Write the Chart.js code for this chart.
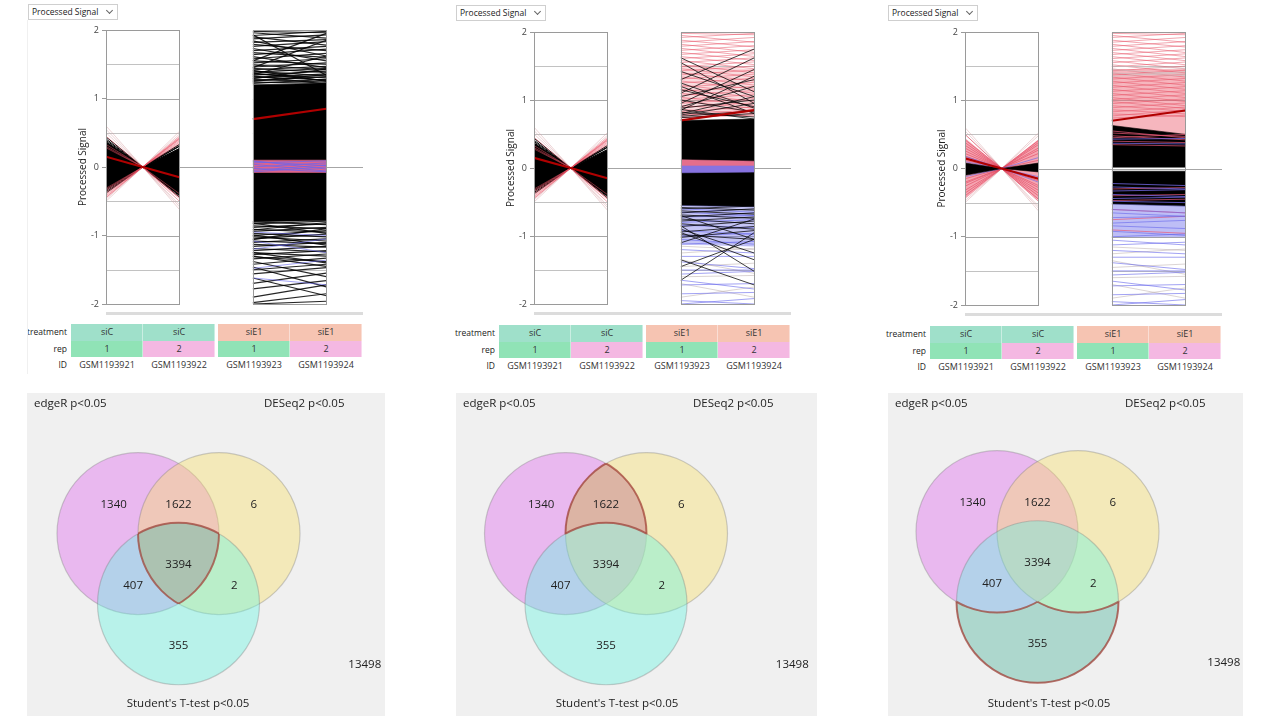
<!DOCTYPE html>
<html>
<head>
<meta charset="utf-8">
<title>Profile plots and Venn diagrams</title>
<script src="https://cdn.jsdelivr.net/npm/chart.js@4.4.1/dist/chart.umd.min.js"></script>
<style>
  html, body { margin: 0; padding: 0; background: #fff; }
  body { font-family: 'Open Sans', 'Noto Sans', sans-serif; color: #222; }
  #page { position: relative; width: 1267px; height: 724px; overflow: hidden; }
  .abs { position: absolute; white-space: nowrap; }
  .dropdown { border: 1px solid #cfcfcf; background: #fff; font-size: 8.5px; line-height: 14px; height: 14px; padding-left: 3px; color: #222; }
  .chev { position: absolute; right: 5px; top: 3px; width: 4px; height: 4px; border-right: 1px solid #666; border-bottom: 1px solid #666; transform: rotate(45deg); }
  .scrollbar { background: #dcdcdc; height: 3px; }
  .lbl { font-size: 8.5px; text-align: right; color: #222; }
  .cell { font-size: 9px; text-align: center; color: #333; box-shadow: inset -1px 0 0 rgba(255,255,255,0.45); }
  .venn-bg { background: #f0f0f0; }
  .venn-title { font-size: 11.5px; color: #222; }
</style>
</head>
<body>
<div id="page"></div>
<script>
// ---- sample annotation ----
const sampleIds = ['GSM1193921', 'GSM1193922', 'GSM1193923', 'GSM1193924'];
const treatments = ['siC', 'siC', 'siE1', 'siE1'];
const reps = ['1', '2', '1', '2'];
const yTickValues = [-2, -1, 0, 1, 2];
const gridValues = [-1.5, -1, -0.5, 0.5, 1, 1.5];

// ---- profile lines: each pair is [rep1, rep2] of one gene ----
const selectedSic = [0.15, -0.15];
const selectedSie = [0.70, 0.85];

// siC box, panels 1 and 2
const sicCoreTop = [0.36, 0.27];
const sicCoreBottom = [-0.33, -0.40];
const sicBlack = [[0.44, -0.44], [0.41, -0.40], [0.39, -0.42], [0.37, -0.35], [-0.36, 0.30], [-0.38, 0.27], [-0.34, 0.31], [0.36, -0.41], [-0.30, 0.33]];
const sicPink = [[-0.42, 0.45], [-0.44, 0.40], [-0.40, 0.42], [-0.38, 0.38], [-0.35, 0.36], [-0.33, 0.34], [0.30, -0.46], [0.45, -0.50], [-0.45, 0.43], [0.33, -0.44], [-0.31, 0.41], [0.28, -0.39]];
const sicFaint = [[0.60, -0.62], [0.55, -0.58], [-0.50, 0.48], [0.50, -0.55], [-0.47, 0.52]];

// siC box, panel 3
const p3SicPinkTop = [0.44, 0.42];
const p3SicPinkBottom = [-0.44, -0.46];
const p3SicCoreTop = [0.08, 0.08];
const p3SicCoreBottom = [-0.10, -0.05];
const p3SicRed = [[0.50, -0.48], [0.38, -0.36], [0.30, -0.28], [0.22, -0.25], [-0.20, 0.22], [-0.32, 0.30], [-0.40, 0.41], [0.42, -0.45], [0.26, -0.32], [-0.26, 0.35], [0.12, -0.18], [-0.15, 0.12], [0.34, -0.40], [-0.36, 0.38], [0.18, -0.14], [-0.22, 0.27]];
const p3SicBlue = [[0.18, -0.20], [0.10, -0.12], [-0.12, 0.16]];

// siE1 box, panel 1
const p1CoreTop = [1.20, 1.22];
const p1CoreBottom = [-0.80, -0.78];
const p1ZeroTop = [0.10, 0.10];
const p1ZeroBottom = [-0.08, -0.08];
const p1UpBlack = [[1.98, 1.96], [1.96, 1.88], [1.93, 1.34], [1.92, 1.98], [1.90, 1.78], [1.87, 1.93], [1.84, 1.62], [1.82, 1.86], [1.79, 1.70], [1.76, 1.83], [1.73, 1.55], [1.70, 1.76], [1.67, 1.60], [1.64, 1.72], [1.61, 1.45], [1.58, 1.66], [1.55, 1.50], [1.52, 1.58], [1.49, 1.42], [1.46, 1.52], [1.44, 1.38], [1.42, 1.47], [1.40, 1.33], [1.38, 1.44], [1.36, 1.30], [1.34, 1.40], [1.32, 1.27], [1.30, 1.36], [1.28, 1.24], [1.26, 1.32], [1.24, 1.22], [1.22, 1.28], [1.55, 1.95], [1.45, 1.85], [1.35, 1.62], [1.41, 1.25], [1.33, 1.21], [1.29, 1.43], [1.25, 1.35], [1.37, 1.26]];
const p1DownBlack = [[-0.80, -0.84], [-0.83, -0.79], [-0.86, -0.90], [-0.88, -0.83], [-0.91, -0.95], [-0.94, -0.88], [-0.97, -1.02], [-1.00, -0.93], [-1.02, -1.08], [-1.05, -0.98], [-1.08, -1.12], [-1.10, -1.05], [-1.13, -1.17], [-1.16, -1.10], [-1.19, -1.24], [-1.22, -1.16], [-1.25, -1.30], [-1.28, -1.22], [-1.31, -1.38], [-1.34, -1.27], [-1.38, -1.60], [-1.42, -1.33], [-1.46, -1.75], [-1.50, -1.42], [-1.56, -1.47], [-1.62, -1.88], [-1.70, -1.55], [-1.78, -1.66], [-1.90, -1.72], [-1.98, -1.85], [-2.00, -1.96], [-1.30, -1.45], [-1.25, -1.40], [-0.82, -0.97], [-0.92, -0.81], [-0.99, -1.14], [-1.06, -0.90]];
const p1DownBlue = [[-1.08, -1.25], [-1.48, -1.36], [-1.62, -1.72], [-1.20, -1.05], [-0.95, -1.00]];
const p1ZeroBlue = [[0.08, 0.02], [0.00, 0.06], [-0.05, 0.03], [0.04, -0.06], [-0.02, -0.07], [0.06, 0.09], [-0.07, 0.00], [0.09, -0.03]];

// siE1 box, panels 2 and 3
const upRedLines = [[1.98, 1.96], [1.95, 1.85], [1.92, 1.98], [1.88, 1.78], [1.85, 1.92], [1.82, 1.70], [1.79, 1.86], [1.76, 1.64], [1.73, 1.80], [1.70, 1.58], [1.67, 1.74], [1.64, 1.52], [1.61, 1.68], [1.58, 1.46], [1.55, 1.62], [1.52, 1.40], [1.49, 1.56], [1.46, 1.34], [1.43, 1.50], [1.40, 1.28], [1.37, 1.44], [1.34, 1.22], [1.31, 1.38], [1.28, 1.16], [1.25, 1.32], [1.22, 1.10], [1.19, 1.26], [1.16, 1.04], [1.13, 1.20], [1.10, 0.98], [1.07, 1.14], [1.04, 0.92], [1.01, 1.08], [0.98, 0.88], [0.95, 1.02], [0.92, 0.84], [0.89, 0.96], [0.86, 0.80], [0.83, 0.90], [0.80, 0.76], [0.77, 0.86], [0.74, 0.78]];
const downBlueLines = [[-0.60, -0.65], [-0.65, -0.70], [-0.72, -0.70], [-0.80, -0.76], [-0.84, -0.88], [-0.92, -0.98], [-1.00, -0.96], [-1.05, -1.12], [-1.12, -1.08], [-1.20, -1.25], [-1.30, -1.30], [-1.38, -1.48], [-1.50, -1.50], [-1.56, -1.52], [-1.65, -1.78], [-1.72, -1.70], [-1.85, -1.83], [-2.00, -1.92], [-1.95, -2.00]];
const downGreyLines = [[-1.15, -1.20], [-1.25, -1.18], [-1.45, -1.40], [-1.60, -1.58], [-1.70, -1.90], [-1.90, -1.75], [-1.35, -1.55]];
const p2UpBlack = [[1.30, 1.75], [1.55, 0.95], [0.95, 1.45], [1.20, 0.80], [1.42, 1.05], [0.85, 1.35], [1.10, 1.62], [1.62, 1.12], [0.90, 1.20], [1.25, 0.88], [1.05, 1.30], [0.80, 1.05], [1.00, 0.82], [0.88, 1.00], [1.15, 0.90], [0.78, 0.95], [0.82, 0.75], [0.76, 0.84], [0.86, 0.72], [0.74, 0.80]];
const p2DownBlack = [[-0.58, -0.62], [-0.60, -0.56], [-0.63, -0.68], [-0.66, -0.60], [-0.69, -0.74], [-0.72, -0.66], [-0.75, -0.82], [-0.78, -0.72], [-0.82, -0.90], [-0.86, -0.78], [-0.90, -1.25], [-0.94, -0.86], [-0.98, -1.05], [-1.02, -0.92], [-0.70, -1.05], [-0.85, -1.52], [-1.65, -0.95], [-1.10, -0.75], [-1.35, -1.72], [-1.45, -1.05], [-0.95, -1.35]];
const p2PinkTop = [1.50, 1.45];
const p2PinkBottom = [0.74, 0.78];
const p2CoreTop = [0.70, 0.72];
const p2CoreBottom = [-0.55, -0.57];
const p2BandMid = [0.03, 0.03];
const p2BandTop = [0.12, 0.10];
const p2BandBottom = [-0.07, -0.06];
const p2BlueBottom = [-1.12, -1.15];

const p3PinkTop = [1.45, 1.45];
const p3PinkBottom = [0.62, 0.50];
const p3UpCoreTop = [0.63, 0.50];
const p3UpCoreBottom = [0.02, 0.02];
const p3DownCoreTop = [-0.04, -0.04];
const p3DownCoreBottom = [-0.52, -0.55];
const p3BlueBottom = [-1.00, -1.00];
const p3TopGrey = [[1.45, 1.38], [1.35, 1.42], [1.50, 1.47], [1.40, 1.36]];
const p3StreakPink = [[0.55, 0.45], [0.48, 0.42], [0.40, 0.38], [0.35, 0.33], [0.45, 0.50], [0.52, 0.47], [-0.30, -0.28], [-0.40, -0.38], [-0.60, -0.65], [-0.75, -0.70], [-0.90, -0.95], [-0.47, -0.45]];
const p3StreakBlue = [[0.43, 0.44], [0.37, 0.36], [-0.22, -0.25], [-0.27, -0.30], [-0.33, -0.31], [-0.38, -0.41], [-0.44, -0.42], [-0.48, -0.50]];

// ---- Venn ----
const vennNames = ['edgeR p<0.05', 'DESeq2 p<0.05', "Student's T-test p<0.05"];
const vennCounts = [1340, 1622, 6, 407, 3394, 2, 355, 13498];
const panelHighlight = [[1, 1, 1], [1, 1, 0], [0, 0, 1]];

// ---- layout (positions, not data) ----
const X_MAX = 3.5;
const boxRanges = [[0, 1], [2, 3]];
const VENN_PX = 81;
const VENN_TOP = 393, VENN_H = 323;
const vennCenters = [[-0.5, 0.2887], [0.5, 0.2887], [0, -0.5774]];
const vennLabelPos = [[-0.80, 0.64], [0, 0.64], [0.93, 0.64], [-0.56, -0.35], [0, -0.10], [0.69, -0.35], [0, -1.10], [2.30, -1.33]];
const vennFill = ['rgba(222,100,237,0.4)', 'rgba(247,222,102,0.4)', 'rgba(100,245,225,0.4)'];
const PANELS = [
  { axisX: 106, top: 30, bottom: 304, dropX: 28, dropY: 4, tableY: 324, vennX: 27, vennW: 358, vennCx: 151.5, vennCy: 164 },
  { axisX: 534, top: 32, bottom: 304, dropX: 456, dropY: 5, tableY: 325, vennX: 456, vennW: 361, vennCx: 150, vennCy: 164 },
  { axisX: 965, top: 32, bottom: 305, dropX: 888, dropY: 5, tableY: 326, vennX: 888, vennW: 355, vennCx: 149.5, vennCy: 162 }
];

const BLACK = '#000';
const RED = 'rgba(232,80,100,0.5)';
const FAINT = 'rgba(215,160,165,0.45)';
const BLUE = 'rgba(100,100,235,0.6)';
const GREY = 'rgba(175,160,160,0.45)';
const SEL = '#b00000';

Chart.defaults.font.family = "'Open Sans', 'Noto Sans', sans-serif";

const page = document.getElementById('page');

function el(cls, css, text) {
  const d = document.createElement('div');
  d.className = 'abs ' + cls;
  d.style.cssText = css;
  if (text !== undefined) d.textContent = text;
  page.appendChild(d);
  return d;
}

function addCanvas(left, top, w, h) {
  const c = document.createElement('canvas');
  c.width = w; c.height = h;
  c.style.cssText = `position:absolute;left:${left}px;top:${top}px;width:${w}px;height:${h}px;`;
  page.appendChild(c);
  return c;
}

// ---- dataset helpers ----
function lineSet(data, color, width, fill) {
  return { data, borderColor: color, backgroundColor: color, borderWidth: width, pointRadius: 0, pointHoverRadius: 0, fill, tension: 0 };
}
const sicPts = p => [{ x: 0, y: p[0] }, { x: 0.5, y: 0 }, { x: 1, y: p[1] }];
const siePts = p => [{ x: 2, y: p[0] }, { x: 3, y: p[1] }];

function addBand(ds, pts, top, bottom, color) {
  ds.push(lineSet(pts(top), color, 0.6, '+1'));
  ds.push(lineSet(pts(bottom), color, 0.6, false));
}
function addLines(ds, pts, lines, color, width) {
  lines.forEach(p => ds.push(lineSet(pts(p), color, width, false)));
}

function panel1Sets() {
  const ds = [];
  addBand(ds, sicPts, sicCoreTop, sicCoreBottom, BLACK);
  addLines(ds, sicPts, sicBlack, BLACK, 1);
  addLines(ds, sicPts, sicFaint, FAINT, 1);
  addLines(ds, sicPts, sicPink, RED, 1);
  addLines(ds, sicPts, [selectedSic], SEL, 2.2);
  addBand(ds, siePts, p1CoreTop, p1CoreBottom, BLACK);
  addLines(ds, siePts, p1UpBlack, 'rgba(0,0,0,0.85)', 1.2);
  addLines(ds, siePts, p1DownBlack, 'rgba(0,0,0,0.85)', 1.2);
  addLines(ds, siePts, p1DownBlue, BLUE, 1);
  addBand(ds, siePts, p1ZeroTop, p1ZeroBottom, 'rgb(222,100,140)');
  addLines(ds, siePts, p1ZeroBlue, 'rgba(110,100,235,0.8)', 1);
  addLines(ds, siePts, [selectedSie], SEL, 2.2);
  return ds;
}

function panel2Sets() {
  const ds = [];
  addBand(ds, sicPts, sicCoreTop, sicCoreBottom, BLACK);
  addLines(ds, sicPts, sicBlack, BLACK, 1);
  addLines(ds, sicPts, sicFaint, FAINT, 1);
  addLines(ds, sicPts, sicPink, RED, 1);
  addLines(ds, sicPts, [selectedSic], SEL, 2.2);
  addBand(ds, siePts, p2PinkTop, p2PinkBottom, 'rgba(240,140,150,0.3)');
  addLines(ds, siePts, upRedLines, RED, 1);
  addLines(ds, siePts, p2UpBlack, 'rgba(0,0,0,0.75)', 1);
  addBand(ds, siePts, p2CoreTop, p2CoreBottom, BLACK);
  addBand(ds, siePts, p2BandTop, p2BandMid, 'rgb(228,110,140)');
  addBand(ds, siePts, p2BandMid, p2BandBottom, 'rgb(135,115,225)');
  addBand(ds, siePts, p2CoreBottom, p2BlueBottom, 'rgba(110,110,230,0.4)');
  addLines(ds, siePts, downGreyLines, GREY, 1);
  addLines(ds, siePts, downBlueLines, BLUE, 1);
  addLines(ds, siePts, p2DownBlack, 'rgba(0,0,0,0.75)', 1);
  addLines(ds, siePts, [selectedSie], SEL, 2.2);
  return ds;
}

function panel3Sets() {
  const ds = [];
  addBand(ds, sicPts, p3SicPinkTop, p3SicPinkBottom, 'rgba(238,105,125,0.6)');
  addLines(ds, sicPts, sicFaint, FAINT, 1);
  addLines(ds, sicPts, p3SicRed, 'rgba(225,70,95,0.6)', 1);
  addLines(ds, sicPts, p3SicBlue, BLUE, 1);
  addBand(ds, sicPts, p3SicCoreTop, p3SicCoreBottom, BLACK);
  addLines(ds, sicPts, [selectedSic], SEL, 2.2);
  addBand(ds, siePts, p3PinkTop, p3PinkBottom, 'rgba(238,110,125,0.5)');
  addLines(ds, siePts, upRedLines, RED, 1);
  addLines(ds, siePts, p3TopGrey, 'rgba(205,195,195,0.7)', 1);
  addBand(ds, siePts, p3UpCoreTop, p3UpCoreBottom, BLACK);
  addBand(ds, siePts, p3DownCoreTop, p3DownCoreBottom, BLACK);
  addBand(ds, siePts, p3DownCoreBottom, p3BlueBottom, 'rgba(110,110,235,0.45)');
  addLines(ds, siePts, p3StreakPink, 'rgba(232,90,120,0.7)', 1);
  addLines(ds, siePts, p3StreakBlue, 'rgba(120,110,240,0.75)', 1);
  addLines(ds, siePts, downGreyLines, GREY, 1);
  addLines(ds, siePts, downBlueLines, BLUE, 1);
  addLines(ds, siePts, [selectedSie], SEL, 2.2);
  return ds;
}

// grid inside the two boxes, zero line, box frames
const profileFrames = {
  id: 'profileFrames',
  beforeDatasetsDraw(chart) {
    const { ctx, scales: { x, y } } = chart;
    ctx.save();
    ctx.lineWidth = 1;
    const y0 = Math.round(y.getPixelForValue(0)) + 0.5;
    ctx.strokeStyle = '#a6a6a6';
    ctx.beginPath();
    ctx.moveTo(x.getPixelForValue(0), y0);
    ctx.lineTo(x.getPixelForValue(X_MAX), y0);
    ctx.stroke();
    boxRanges.forEach(([a, b]) => {
      gridValues.forEach(g => {
        const gy = Math.round(y.getPixelForValue(g)) + 0.5;
        ctx.strokeStyle = Number.isInteger(g) ? '#a6a6a6' : '#c2c2c2';
        ctx.beginPath();
        ctx.moveTo(x.getPixelForValue(a), gy);
        ctx.lineTo(x.getPixelForValue(b), gy);
        ctx.stroke();
      });
    });
    ctx.restore();
  },
  afterDatasetsDraw(chart) {
    const { ctx, scales: { x, y } } = chart;
    ctx.save();
    ctx.strokeStyle = '#9a9a9a';
    ctx.lineWidth = 1;
    boxRanges.forEach(([a, b]) => {
      const l = Math.round(x.getPixelForValue(a)) + 0.5;
      const r = Math.round(x.getPixelForValue(b)) + 0.5;
      const t = Math.round(y.getPixelForValue(2)) + 0.5;
      const btm = Math.round(y.getPixelForValue(-2)) + 0.5;
      ctx.strokeRect(l, t, r - l, btm - t);
    });
    ctx.restore();
  }
};

function drawProfile(p, datasets) {
  const w = 340, h = p.bottom - p.top + 10;
  const canvas = addCanvas(p.axisX - 79, p.top - 6, w, h);
  datasets.forEach((d, i) => { d.order = -i; });
  new Chart(canvas, {
    type: 'line',
    data: { datasets },
    options: {
      animation: false,
      responsive: false,
      events: [],
      layout: { autoPadding: false, padding: { top: 6, right: 4, bottom: 4, left: 0 } },
      plugins: { legend: { display: false }, tooltip: { enabled: false } },
      scales: {
        x: { type: 'linear', display: false, min: 0, max: X_MAX },
        y: {
          min: -2, max: 2,
          afterFit: s => { s.width = 79; s.paddingTop = 0; s.paddingBottom = 0; },
          afterBuildTicks: s => { s.ticks = yTickValues.map(v => ({ value: v })); },
          ticks: { padding: 3, color: '#444', font: { size: 9 } },
          grid: { drawOnChartArea: false, drawTicks: true, tickLength: 4, color: '#999' },
          border: { display: false },
          title: { display: true, text: 'Processed Signal', color: '#222', font: { size: 10 }, padding: { top: 50, bottom: 0 } }
        }
      }
    },
    plugins: [profileFrames]
  });
}

// ---- Venn highlight, outline and counts ----
const vennExtras = {
  id: 'vennExtras',
  afterDatasetsDraw(chart, args, opts) {
    const { ctx, scales: { x, y } } = chart;
    const r = x.getPixelForValue(1) - x.getPixelForValue(0);
    const cs = vennCenters.map(c => [x.getPixelForValue(c[0]), y.getPixelForValue(c[1])]);
    const W = chart.width, H = chart.height;
    const m = opts.highlight;
    const clipTo = skip => {
      cs.forEach((c, i) => {
        if (i === skip) return;
        ctx.beginPath();
        if (!m[i]) ctx.rect(0, 0, W, H);
        ctx.moveTo(c[0] + r, c[1]);
        ctx.arc(c[0], c[1], r, 0, Math.PI * 2);
        ctx.clip(m[i] ? 'nonzero' : 'evenodd');
      });
    };
    ctx.save();
    clipTo(-1);
    ctx.fillStyle = 'rgba(110,60,40,0.15)';
    ctx.fillRect(0, 0, W, H);
    ctx.restore();
    cs.forEach((c, i) => {
      ctx.save();
      clipTo(i);
      ctx.beginPath();
      ctx.arc(c[0], c[1], r, 0, Math.PI * 2);
      ctx.strokeStyle = 'rgba(165,65,55,0.7)';
      ctx.lineWidth = 2;
      ctx.stroke();
      ctx.restore();
    });
    ctx.save();
    ctx.font = "11.5px 'Open Sans', sans-serif";
    ctx.fillStyle = '#222';
    ctx.textAlign = 'center';
    ctx.textBaseline = 'middle';
    vennCounts.forEach((n, i) => {
      ctx.fillText(String(n), x.getPixelForValue(vennLabelPos[i][0]), y.getPixelForValue(vennLabelPos[i][1]));
    });
    ctx.restore();
  }
};

function drawVenn(p, highlight) {
  el('venn-bg', `left:${p.vennX}px;top:${VENN_TOP}px;width:${p.vennW}px;height:${VENN_H}px;`);
  const canvas = addCanvas(p.vennX, VENN_TOP, p.vennW, VENN_H);
  const datasets = vennNames.map((name, i) => ({
    label: name,
    data: [{ x: vennCenters[i][0], y: vennCenters[i][1], r: VENN_PX }],
    backgroundColor: vennFill[i],
    borderColor: 'rgba(120,120,120,0.35)',
    borderWidth: 1.2,
    hoverRadius: 0,
    order: -i,
    clip: false
  }));
  new Chart(canvas, {
    type: 'bubble',
    data: { datasets },
    options: {
      animation: false,
      responsive: false,
      events: [],
      layout: { autoPadding: false, padding: 0 },
      plugins: { legend: { display: false }, tooltip: { enabled: false }, vennExtras: { highlight } },
      scales: {
        x: { display: false, min: -p.vennCx / VENN_PX, max: (p.vennW - p.vennCx) / VENN_PX },
        y: { display: false, min: -(VENN_H - p.vennCy) / VENN_PX, max: p.vennCy / VENN_PX }
      }
    },
    plugins: [vennExtras]
  });
  el('venn-title', `left:${p.vennX + 7}px;top:${VENN_TOP + 2}px;`, vennNames[0]);
  el('venn-title', `left:${p.vennX + 237}px;top:${VENN_TOP + 2}px;`, vennNames[1]);
  el('venn-title', `left:${p.vennX + 161}px;top:${VENN_TOP + 302}px;transform:translateX(-50%);`, vennNames[2]);
}

function drawAnnotation(p) {
  const rowH = 16.5;
  const labelRight = 1267 - (p.axisX - 39);
  const colLeft = [0, 72, 147, 219].map(o => p.axisX - 35 + o);
  const treatColor = { siC: '#9fe0ca', siE1: '#f6c4b2' };
  const repColor = { '1': '#90e3b6', '2': '#f4b8e2' };
  el('lbl', `right:${labelRight}px;top:${p.tableY}px;line-height:${rowH}px;`, 'treatment');
  el('lbl', `right:${labelRight}px;top:${p.tableY + rowH}px;line-height:${rowH}px;`, 'rep');
  el('lbl', `right:${labelRight}px;top:${p.tableY + rowH * 2}px;line-height:${rowH}px;`, 'ID');
  sampleIds.forEach((id, i) => {
    el('cell', `left:${colLeft[i]}px;top:${p.tableY}px;width:72px;height:${rowH}px;line-height:${rowH}px;background:${treatColor[treatments[i]]};`, treatments[i]);
    el('cell', `left:${colLeft[i]}px;top:${p.tableY + rowH}px;width:72px;height:${rowH}px;line-height:${rowH}px;background:${repColor[reps[i]]};`, reps[i]);
    el('cell', `left:${colLeft[i]}px;top:${p.tableY + rowH * 2}px;width:72px;height:${rowH}px;line-height:${rowH}px;box-shadow:none;`, id);
  });
}

const panelSets = [panel1Sets(), panel2Sets(), panel3Sets()];
PANELS.forEach((p, k) => {
  const dd = el('dropdown', `left:${p.dropX}px;top:${p.dropY}px;width:85px;`, 'Processed Signal');
  const chev = document.createElement('span');
  chev.className = 'chev';
  dd.appendChild(chev);
  drawProfile(p, panelSets[k]);
  el('scrollbar', `left:${p.axisX}px;top:${p.bottom + 8}px;width:${257}px;`);
  drawAnnotation(p);
  drawVenn(p, panelHighlight[k]);
});
el('', 'left:27px;top:20px;width:1px;height:354px;background:#f0f0f0;');
</script>
</body>
</html>
